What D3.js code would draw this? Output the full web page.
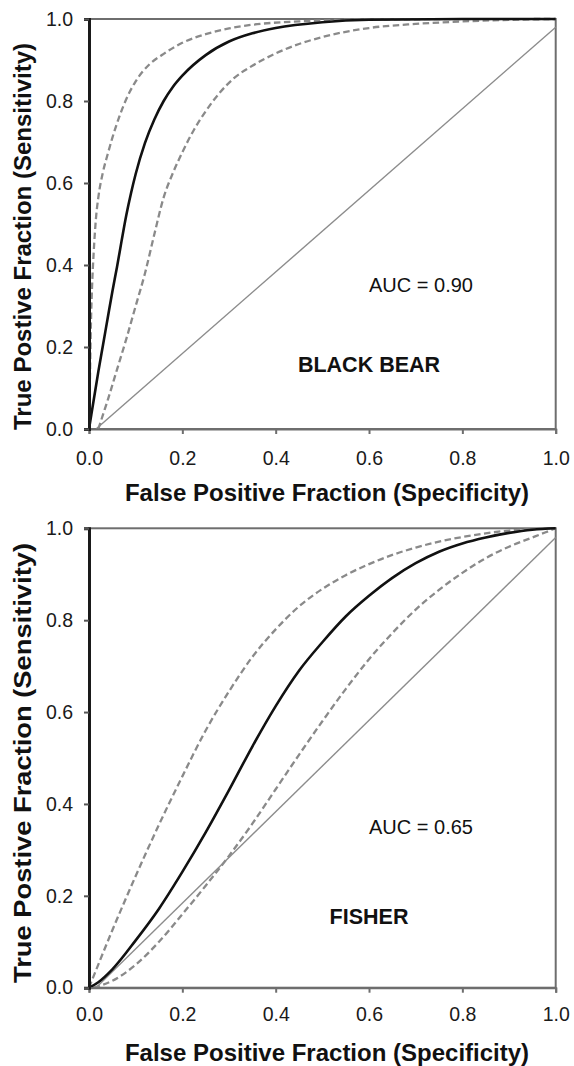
<!DOCTYPE html>
<html>
<head>
<meta charset="utf-8">
<script src="https://cdn.jsdelivr.net/npm/d3@7"></script>
<style>
  html, body { margin: 0; padding: 0; background: #fff; }
  svg { display: block; font-family: "Liberation Sans", Arial, sans-serif; }
</style>
</head>
<body>
<svg id="chart" width="574" height="1066"></svg>
<script>
// ---- data (False Positive Fraction, True Positive Fraction) ----
const tickValues = [0, 0.2, 0.4, 0.6, 0.8, 1.0];
const xTitle = "False Positive Fraction (Specificity)";
const yTitle = "True Postive Fraction (Sensitivity)";
const speciesNames = ["BLACK BEAR", "FISHER"];
const aucLabels = ["AUC = 0.90", "AUC = 0.65"];
const chanceLine = [[0.015, 0], [1.0, 0.98]];

const bearFit = [[0,0],[0.01,0.07],[0.02,0.14],[0.03,0.205],[0.04,0.27],[0.05,0.335],[0.06,0.395],
  [0.07,0.46],[0.08,0.522],[0.09,0.575],[0.10,0.622],[0.12,0.698],[0.14,0.755],[0.16,0.80],[0.18,0.835],
  [0.20,0.862],[0.25,0.912],[0.30,0.945],[0.35,0.965],[0.40,0.978],[0.50,0.992],[0.60,0.998],[0.8,1.0],[1.0,1.0]];
const bearUpper = [[0,0],[0.002,0.12],[0.004,0.25],[0.007,0.36],[0.01,0.43],[0.015,0.515],[0.02,0.565],
  [0.03,0.627],[0.04,0.67],[0.05,0.71],[0.066,0.765],[0.08,0.805],[0.1,0.848],[0.13,0.89],[0.16,0.915],
  [0.2,0.942],[0.25,0.963],[0.3,0.977],[0.35,0.986],[0.45,0.994],[0.6,0.999],[1.0,1.0]];
const bearLower = [[0.02,0],[0.03,0.035],[0.04,0.07],[0.06,0.145],[0.08,0.22],[0.10,0.30],[0.12,0.38],
  [0.14,0.475],[0.16,0.565],[0.18,0.625],[0.20,0.675],[0.225,0.73],[0.25,0.775],[0.28,0.82],[0.31,0.855],
  [0.35,0.886],[0.4,0.916],[0.45,0.939],[0.5,0.956],[0.6,0.978],[0.7,0.988],[0.8,0.994],[0.9,0.998],[1.0,1.0]];

const fisherFit = [[0,0],[0.02,0.012],[0.05,0.04],[0.1,0.103],[0.15,0.172],[0.2,0.252],[0.25,0.338],
  [0.3,0.43],[0.35,0.525],[0.4,0.613],[0.45,0.69],[0.5,0.752],[0.55,0.808],[0.6,0.853],[0.65,0.892],
  [0.7,0.924],[0.75,0.949],[0.8,0.967],[0.85,0.98],[0.9,0.99],[0.95,0.997],[1.0,1.0]];
const fisherUpper = [[0,0],[0.05,0.125],[0.1,0.243],[0.15,0.355],[0.2,0.46],[0.25,0.56],[0.3,0.645],
  [0.35,0.72],[0.4,0.78],[0.45,0.83],[0.5,0.868],[0.55,0.898],[0.6,0.922],[0.65,0.942],[0.7,0.958],
  [0.75,0.971],[0.8,0.981],[0.85,0.989],[0.9,0.995],[0.95,0.998],[1.0,1.0]];
const fisherLower = [[0.01,0],[0.05,0.015],[0.1,0.05],[0.15,0.1],[0.2,0.16],[0.25,0.222],[0.3,0.287],
  [0.35,0.357],[0.4,0.432],[0.45,0.507],[0.5,0.58],[0.55,0.65],[0.6,0.715],[0.65,0.772],[0.7,0.823],
  [0.75,0.866],[0.8,0.903],[0.85,0.935],[0.9,0.96],[0.95,0.98],[1.0,1.0]];

// ---- layout ----
const svg = d3.select("#chart");
const left = 89, right = 555.7;
const panels = [
  { top: 19, bottom: 429, xPad: 17, xTitleY: 501, yTitleY: 236.5, yTitleLen: 387,
    fit: bearFit, upper: bearUpper, lower: bearLower, name: speciesNames[0], auc: aucLabels[0] },
  { top: 528.3, bottom: 987.7, xPad: 14, xTitleY: 1061, yTitleY: 763, yTitleLen: 440,
    fit: fisherFit, upper: fisherUpper, lower: fisherLower, name: speciesNames[1], auc: aucLabels[1] }
];

panels.forEach((p, i) => {
  const x = d3.scaleLinear().domain([0, 1]).range([left, right]);
  const y = d3.scaleLinear().domain([0, 1]).range([p.bottom, p.top]);
  const g = svg.append("g");

  const clipId = "clip" + i;
  svg.append("clipPath").attr("id", clipId).append("rect")
    .attr("x", left).attr("y", p.top - 2).attr("width", right - left + 2).attr("height", p.bottom - p.top + 2);

  // frame
  g.append("rect").attr("x", left).attr("y", p.top).attr("width", right - left).attr("height", p.bottom - p.top)
    .attr("fill", "none").attr("stroke", "#6e6e6e").attr("stroke-width", 2);

  const line = d3.line().x(d => x(d[0])).y(d => y(d[1])).curve(d3.curveMonotoneX);
  const plot = g.append("g").attr("clip-path", `url(#${clipId})`);

  plot.append("path").datum(chanceLine)
    .attr("d", d3.line().x(d => x(d[0])).y(d => y(d[1])))
    .attr("fill", "none").attr("stroke", "#8c8c8c").attr("stroke-width", 1.4);

  [p.upper, p.lower].forEach(ci => {
    plot.append("path").datum(ci).attr("d", line)
      .attr("fill", "none").attr("stroke", "#8a8a8a").attr("stroke-width", 2.3)
      .attr("stroke-dasharray", "6.5,3.5");
  });
  plot.append("path").datum(p.fit).attr("d", line)
    .attr("fill", "none").attr("stroke", "#111").attr("stroke-width", 2.6);

  // axes
  const xAxis = d3.axisBottom(x).tickValues(tickValues).tickFormat(d3.format(".1f"))
    .tickSize(5).tickPadding(p.xPad);
  const gx = g.append("g").attr("transform", `translate(0,${p.bottom})`).call(xAxis);
  gx.select(".domain").attr("stroke", "#6e6e6e").attr("stroke-width", 2);
  gx.selectAll(".tick line").attr("stroke", "#6e6e6e").attr("stroke-width", 2);
  gx.selectAll(".tick text").attr("font-size", 19.5).attr("fill", "#1a1a1a")
    .attr("font-family", "'Liberation Sans', Arial, sans-serif");

  const yAxis = d3.axisLeft(y).tickValues(tickValues).tickFormat(d3.format(".1f"))
    .tickSize(5).tickPadding(11);
  const gy = g.append("g").attr("transform", `translate(${left},0)`).call(yAxis);
  gy.select(".domain").attr("stroke", "#1a1a1a").attr("stroke-width", 3);
  gy.selectAll(".tick line").attr("stroke", "#555").attr("stroke-width", 2);
  gy.selectAll(".tick text").attr("font-size", 19.5).attr("fill", "#1a1a1a")
    .attr("font-family", "'Liberation Sans', Arial, sans-serif");

  // titles
  g.append("text").attr("x", 327).attr("y", p.xTitleY).attr("text-anchor", "middle")
    .attr("font-size", 24).attr("font-weight", "bold").attr("fill", "#111").text(xTitle);
  g.append("text").attr("transform", `translate(31,${p.yTitleY}) rotate(-90)`)
    .attr("text-anchor", "middle").attr("font-size", 24).attr("font-weight", "bold").attr("fill", "#111")
    .attr("textLength", p.yTitleLen).attr("lengthAdjust", "spacingAndGlyphs").text(yTitle);

  // annotations
  g.append("text").attr("x", x(0.6)).attr("y", y(0.335)).attr("font-size", 20).attr("fill", "#111")
    .text(p.auc);
  g.append("text").attr("x", x(0.6)).attr("y", y(0.139)).attr("text-anchor", "middle")
    .attr("font-size", 21.5).attr("font-weight", "bold").attr("fill", "#111").text(p.name);
});
</script>
</body>
</html>
